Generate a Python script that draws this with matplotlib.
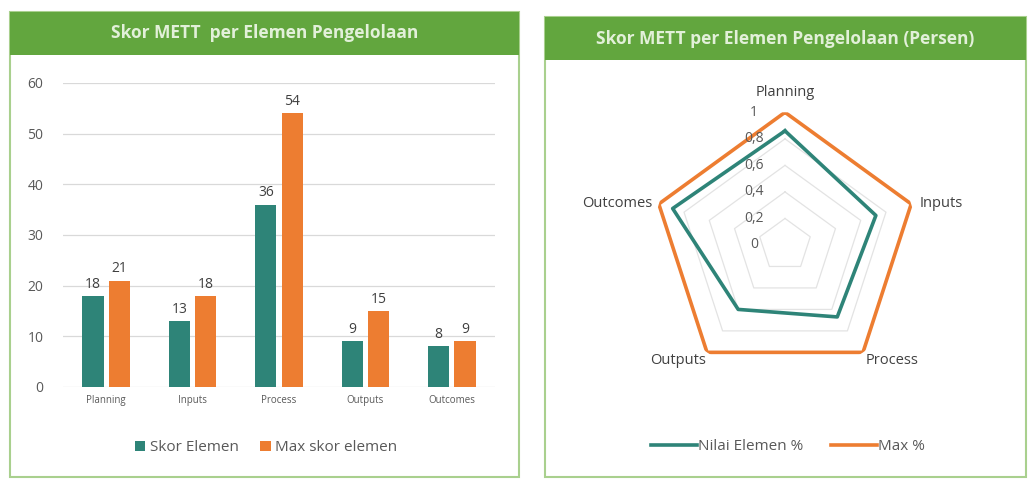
import numpy as np
import matplotlib
matplotlib.use("Agg")
import matplotlib.pyplot as plt
from matplotlib.patches import Rectangle
from matplotlib.lines import Line2D

plt.rcParams['font.family'] = ['Open Sans', 'DejaVu Sans']

# data
elements = ["Planning", "Inputs", "Process", "Outputs", "Outcomes"]
skor_elemen = [18, 13, 36, 9, 8]
max_skor = [21, 18, 54, 15, 9]
nilai_pct = [0.86, 0.72, 0.67, 0.60, 0.89]
max_pct = [1, 1, 1, 1, 1]
r_ticks = [0, 0.2, 0.4, 0.6, 0.8, 1]
r_tick_labels = ["0", "0,2", "0,4", "0,6", "0,8", "1"]

TEAL = "#2E8478"
ORANGE = "#ED7D31"
HEADER = "#62A63E"
BORDER = "#A9D08E"
GRAY = "#595959"

W, H = 1028, 484
fig = plt.figure(figsize=(W / 100, H / 100), dpi=100)


def px_box(x0, y0, x1, y1):
    # pixel box (top-left origin) -> figure fraction rect
    return [x0 / W, 1 - y1 / H, (x1 - x0) / W, (y1 - y0) / H]


def panel(x0, y0, x1, y1, hdr_h, title):
    l, b, w, h = px_box(x0, y0, x1, y1)
    fig.patches.append(Rectangle((l, b), w, h, transform=fig.transFigure,
                                 facecolor="white", edgecolor=BORDER, lw=1.5, zorder=-2))
    l, b, w, h = px_box(x0, y0, x1, y0 + hdr_h)
    fig.patches.append(Rectangle((l, b), w, h, transform=fig.transFigure,
                                 facecolor=HEADER, edgecolor="none", zorder=-1))
    fig.text(l + w / 2, b + h / 2, title, ha="center", va="center",
             color="#E2F0D9", fontsize=12.5, fontweight="bold")


panel(10, 12, 519, 477, 43, "Skor METT  per Elemen Pengelolaan")
panel(545, 17, 1026, 477, 43, "Skor METT per Elemen Pengelolaan (Persen)")

# ---- bar chart ----
ax = fig.add_axes(px_box(63, 83, 495, 387))
ax.patch.set_alpha(0)
x = np.arange(len(elements))
bw = 0.245
b1 = ax.bar(x - bw / 2 - 0.03, skor_elemen, bw, color=TEAL, label="Skor Elemen", zorder=2)
b2 = ax.bar(x + bw / 2 + 0.03, max_skor, bw, color=ORANGE, label="Max skor elemen", zorder=2)
for bars in (b1, b2):
    ax.bar_label(bars, padding=3, fontsize=10, color="#404040")
ax.set_ylim(0, 60)
ax.set_xlim(-0.5, len(elements) - 0.5)
ax.set_yticks(range(0, 61, 10))
ax.set_xticks(x)
ax.set_xticklabels(elements, fontsize=7, color=GRAY)
ax.tick_params(axis="y", labelsize=10, labelcolor=GRAY, length=0, pad=14)
ax.tick_params(axis="x", length=0, pad=6)
ax.grid(axis="y", color="#D9D9D9", lw=0.9, zorder=0)
for s in ax.spines.values():
    s.set_visible(False)
ax.legend(loc="center", bbox_to_anchor=(0.47, -0.2), ncol=2, frameon=False,
          fontsize=11, labelcolor=GRAY, handlelength=0.7, handleheight=0.7,
          handletextpad=0.3, columnspacing=1.4)

# ---- radar chart ----
R = 132.7
cx, cy = 785, 245
rax = fig.add_axes(px_box(cx - R, cy - R, cx + R, cy + R), projection="polar")
rax.set_theta_offset(np.pi / 2)
rax.set_theta_direction(-1)
rax.set_ylim(0, 1)
rax.set_frame_on(False)
rax.grid(False)
rax.set_xticks([])
rax.set_yticks([])
rax.patch.set_alpha(0)

theta = np.linspace(0, 2 * np.pi, len(elements), endpoint=False)
closed = np.append(theta, theta[0])
for r in r_ticks[1:]:
    rax.plot(closed, [r] * len(closed), color="#E3E3E3", lw=0.9, zorder=1)

rax.plot(closed, max_pct + max_pct[:1], color=ORANGE, lw=2.6, zorder=3, label="Max %")
rax.plot(closed, nilai_pct + nilai_pct[:1], color=TEAL, lw=2.6, zorder=4, label="Nilai Elemen %")

for r, lab in zip(r_ticks, r_tick_labels):
    rax.annotate(lab, (0, r), xytext=(-31, 0), textcoords="offset pixels",
                 ha="center", va="center", fontsize=10, color=GRAY, zorder=5)

label_pos = {
    "Planning": ((0, 20), "center", "center"),
    "Inputs": ((8, 0), "left", "center"),
    "Process": ((3, -8), "left", "center"),
    "Outputs": ((-1, -8), "right", "center"),
    "Outcomes": ((-6, 0), "right", "center"),
}
for t, name in zip(theta, elements):
    off, ha, va = label_pos[name]
    rax.annotate(name, (t, 1), xytext=off, textcoords="offset pixels",
                 ha=ha, va=va, fontsize=10.5, color="#404040")

handles = [Line2D([], [], color=TEAL, lw=2.6), Line2D([], [], color=ORANGE, lw=2.6)]
fig.legend(handles, ["Nilai Elemen %", "Max %"], loc="center",
           bbox_to_anchor=(788 / W, 1 - 447 / H), ncol=2, frameon=False,
           fontsize=11, labelcolor=GRAY, handlelength=3, handletextpad=0.1,
           columnspacing=1.8)

fig.savefig("out.png", dpi=100)
